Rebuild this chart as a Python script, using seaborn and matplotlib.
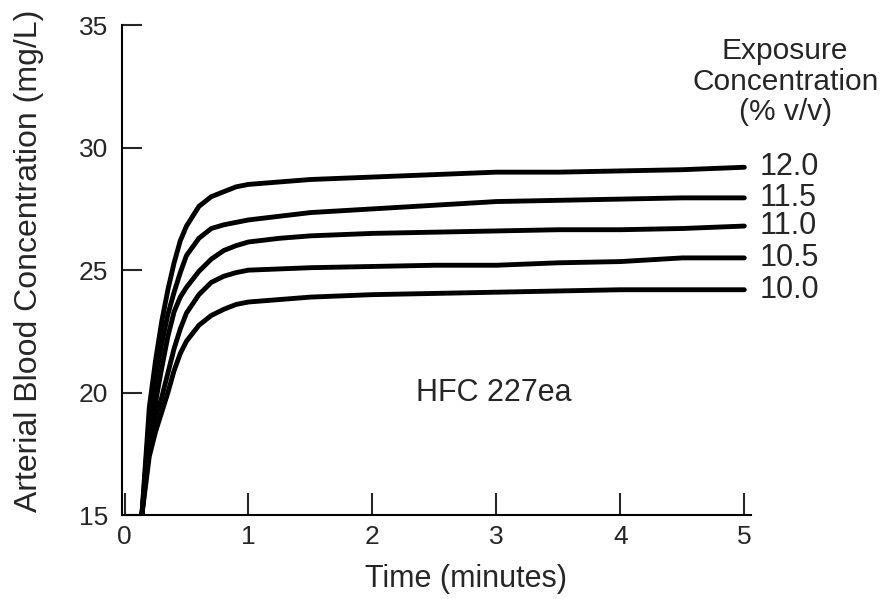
import numpy as np
import pandas as pd
import matplotlib
matplotlib.use('Agg')
import matplotlib.pyplot as plt
import seaborn as sns

# temps (minutes)
time_min = [0.14, 0.2, 0.25, 0.3, 0.35, 0.4, 0.45, 0.5, 0.6, 0.7, 0.8, 0.9, 1.0,
            1.25, 1.5, 2.0, 2.5, 3.0, 3.5, 4.0, 4.5, 5.0]

# concentration arterielle (mg/L) par concentration d'exposition (% v/v)
conc_12_0 = [15, 19.4, 21.3, 22.9, 24.2, 25.3, 26.2, 26.8, 27.6, 28.0, 28.2, 28.4, 28.5,
             28.6, 28.7, 28.8, 28.9, 29.0, 29.0, 29.05, 29.1, 29.2]
conc_11_5 = [15, 18.9, 20.6, 22.0, 23.2, 24.1, 24.9, 25.6, 26.3, 26.7, 26.85, 26.95, 27.05,
             27.2, 27.35, 27.5, 27.65, 27.8, 27.85, 27.9, 27.95, 27.95]
conc_11_0 = [15, 18.2, 19.6, 21.0, 22.3, 23.3, 23.9, 24.3, 24.95, 25.45, 25.8, 26.0, 26.15,
             26.3, 26.4, 26.5, 26.55, 26.6, 26.65, 26.65, 26.7, 26.8]
conc_10_5 = [15, 17.8, 19.0, 19.8, 20.8, 21.8, 22.6, 23.25, 24.0, 24.5, 24.75, 24.9, 25.0,
             25.05, 25.1, 25.15, 25.2, 25.2, 25.3, 25.35, 25.5, 25.5]
conc_10_0 = [15, 17.4, 18.4, 19.2, 20.0, 20.9, 21.6, 22.1, 22.75, 23.15, 23.4, 23.6, 23.7,
             23.8, 23.9, 24.0, 24.05, 24.1, 24.15, 24.2, 24.2, 24.2]

exposures = ['12.0', '11.5', '11.0', '10.5', '10.0']
series = [conc_12_0, conc_11_5, conc_11_0, conc_10_5, conc_10_0]

frames = []
for expo, vals in zip(exposures, series):
    frames.append(pd.DataFrame({'Temps': time_min, 'Conc': vals, 'Expo': expo}))
df = pd.concat(frames, ignore_index=True)

sns.set_style('ticks')
plt.rcParams['font.family'] = ['Liberation Sans', 'DejaVu Sans']

fig = plt.figure(figsize=(8.94, 5.99), dpi=100)
ax = fig.add_axes([0.1365, 0.14, 0.703, 0.818])

sns.lineplot(data=df, x='Temps', y='Conc', hue='Expo', hue_order=exposures,
             palette=['black'] * 5, linewidth=3.5, legend=False, ax=ax,
             estimator=None, sort=False)

ax.set_xlim(-0.02, 5.05)
ax.set_ylim(15, 35)
ax.set_xticks([0, 1, 2, 3, 4, 5])
ax.set_yticks([15, 20, 25, 30, 35])
ax.tick_params(axis='x', direction='in', length=16, width=1.5, labelsize=19, pad=7)
ax.tick_params(axis='y', direction='in', length=14.5, width=1.5, labelsize=19, pad=10)
ax.set_xlabel('Time (minutes)', fontsize=22)
ax.set_ylabel('Arterial Blood Concentration (mg/L)', fontsize=23)
ax.xaxis.set_label_coords(0.548, -0.1)
ax.yaxis.set_label_coords(-0.124, 0.52)
sns.despine(ax=ax)
for s in ['left', 'bottom']:
    ax.spines[s].set_linewidth(1.5)
    ax.spines[s].set_color('black')

# etiquettes en bout de courbe
for expo, vals in zip(exposures, series):
    ax.text(5.12, vals[-1], expo, fontsize=22, va='center', ha='left', clip_on=False)

ax.text(5.33, 32.7, 'Exposure\nConcentration\n(% v/v)', fontsize=21.5, ha='center',
        va='center', linespacing=1.1, clip_on=False)
ax.text(2.98, 20.0, 'HFC 227ea', fontsize=22, ha='center', va='center')

fig.savefig('out.png', dpi=100)
